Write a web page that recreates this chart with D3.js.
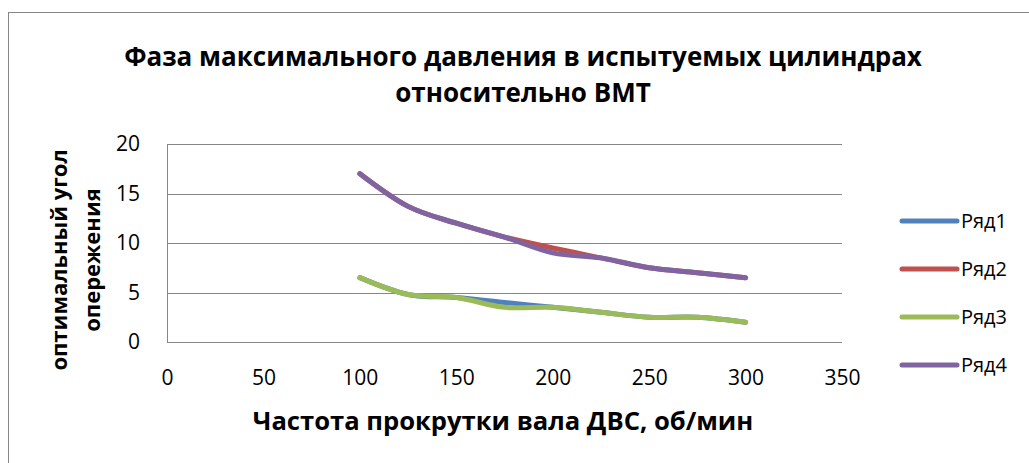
<!DOCTYPE html>
<html>
<head>
<meta charset="utf-8">
<script src="https://cdn.jsdelivr.net/npm/d3@7"></script>
<style>
  html, body { margin: 0; padding: 0; background: #fff; }
  svg { display: block; }
  text { font-family: "Open Sans", sans-serif; fill: #000; }
</style>
</head>
<body>
<svg id="chart" width="1029" height="463"></svg>
<script>
// Engine speed, rev/min
const rpm = [100, 125, 150, 175, 200, 225, 250, 275, 300];
// Optimal advance angle per series
const ser1 = [6.5, 4.8, 4.5, 4.0, 3.5, 3.0, 2.5, 2.5, 2.0];
const ser2 = [17, 13.7, 12, 10.6, 9.5, 8.5, 7.5, 7.0, 6.5];
const ser3 = [6.5, 4.8, 4.5, 3.5, 3.5, 3.0, 2.5, 2.5, 2.0];
const ser4 = [17, 13.7, 12, 10.6, 9.0, 8.5, 7.5, 7.0, 6.5];
const seriesNames = ["Ряд1", "Ряд2", "Ряд3", "Ряд4"];
const seriesColors = ["#4F81BD", "#C0504D", "#9BBB59", "#8064A2"];
const xTicks = [0, 50, 100, 150, 200, 250, 300, 350];
const yTicks = [0, 5, 10, 15, 20];
const titleLines = ["Фаза максимального давления в испытуемых цилиндрах", "относительно ВМТ"];
const yTitleLines = ["оптимальный угол", "опережения"];
const xTitle = "Частота прокрутки вала ДВС, об/мин";

const FONT = "'Open Sans', sans-serif";
const svg = d3.select("#chart");

// chart frame
svg.append("rect")
  .attr("x", 8.5).attr("y", 12.5)
  .attr("width", 1100).attr("height", 500)
  .attr("fill", "#fff").attr("stroke", "#868686").attr("stroke-width", 1);

const plot = { left: 167, right: 842, top: 144, bottom: 342 };
const x = d3.scaleLinear().domain([0, 350]).range([plot.left, plot.right]);
const y = d3.scaleLinear().domain([0, 20]).range([plot.bottom, plot.top]);

// horizontal gridlines
svg.append("g")
  .selectAll("line").data(yTicks).join("line")
  .attr("x1", plot.left).attr("x2", plot.right)
  .attr("y1", d => Math.round(y(d)) + 0.5).attr("y2", d => Math.round(y(d)) + 0.5)
  .attr("stroke", "#868686").attr("stroke-width", 1);

// vertical axis line
svg.append("line")
  .attr("x1", plot.left + 0.5).attr("x2", plot.left + 0.5)
  .attr("y1", plot.top).attr("y2", plot.bottom + 0.5)
  .attr("stroke", "#868686").attr("stroke-width", 1);

// y tick labels
const yAxis = d3.axisLeft(y).tickValues(yTicks).tickSize(0).tickPadding(0);
const gy = svg.append("g").attr("transform", `translate(${plot.left - 27},0)`).call(yAxis);
gy.select(".domain").remove();
gy.selectAll("text").style("font-family", FONT)
  .style("font-size", "21px").attr("fill", "#000").attr("text-anchor", "end");

// x tick labels
const xAxis = d3.axisBottom(x).tickValues(xTicks).tickSize(0).tickPadding(0);
const gx = svg.append("g").attr("transform", `translate(0,${plot.bottom + 28})`).call(xAxis);
gx.select(".domain").remove();
gx.selectAll("text").style("font-family", FONT)
  .style("font-size", "21px").attr("fill", "#000");

// series lines
const rows = [ser1, ser2, ser3, ser4];
const line = d3.line()
  .x((d, i) => x(rpm[i]))
  .y(d => y(d))
  .curve(d3.curveCardinal.tension(0));
svg.append("g").selectAll("path").data(rows).join("path")
  .attr("d", d => line(d))
  .attr("fill", "none")
  .attr("stroke", (d, i) => seriesColors[i])
  .attr("stroke-width", 5)
  .attr("stroke-linecap", "round")
  .attr("stroke-linejoin", "round");

// title
svg.append("g").selectAll("text").data(titleLines).join("text")
  .attr("x", 523).attr("y", (d, i) => 66 + i * 36)
  .attr("text-anchor", "middle")
  .style("font-size", "26px").style("font-weight", "bold")
  .text(d => d);

// y axis title
svg.append("g").selectAll("text").data(yTitleLines).join("text")
  .attr("transform", (d, i) => `translate(${67 + i * 33},260) rotate(-90)`)
  .attr("text-anchor", "middle")
  .style("font-size", "22px").style("font-weight", "bold")
  .text(d => d);

// x axis title
svg.append("text")
  .attr("x", 503).attr("y", 430)
  .attr("text-anchor", "middle")
  .style("font-size", "25.6px").style("font-weight", "bold")
  .text(xTitle);

// legend
const lg = svg.append("g").selectAll("g").data(seriesNames).join("g")
  .attr("transform", (d, i) => `translate(902,${221 + i * 48})`);
lg.append("line")
  .attr("x1", 0).attr("x2", 55).attr("y1", 0).attr("y2", 0)
  .attr("stroke", (d, i) => seriesColors[i])
  .attr("stroke-width", 5).attr("stroke-linecap", "round");
lg.append("text")
  .attr("x", 59).attr("y", 7)
  .style("font-size", "20px")
  .text(d => d);
</script>
</body>
</html>
